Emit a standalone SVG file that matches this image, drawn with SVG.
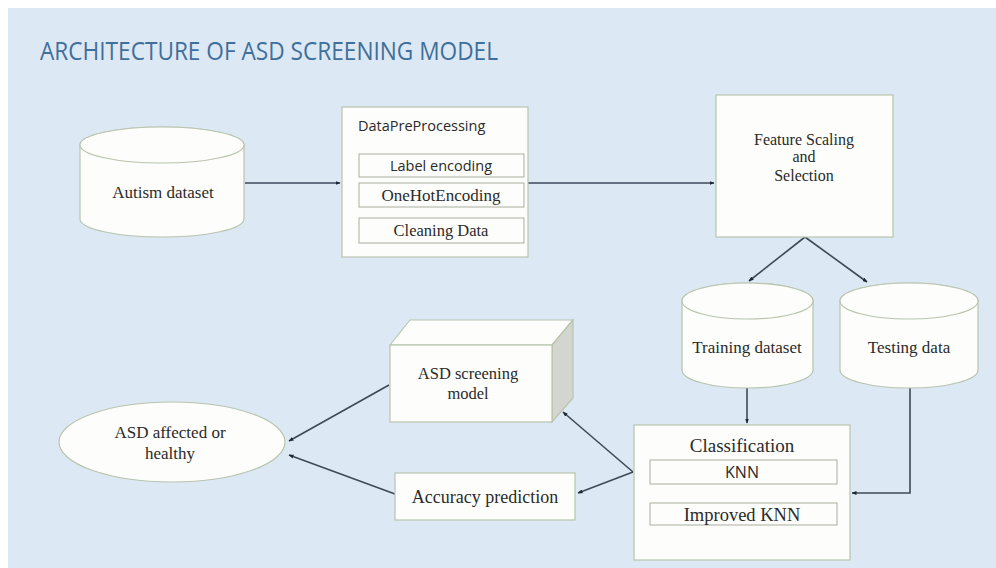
<svg xmlns="http://www.w3.org/2000/svg" width="996" height="568" viewBox="0 0 996 568">
  <defs>
    <style>
      .bg { fill: #dde8f5; }
      .box { fill: #fdfefb; stroke: #b8c4ae; stroke-width: 1.2; }
      .sub { fill: #fdfefb; stroke: #a9ad9f; stroke-width: 1; }
      .shade { fill: #d3d5cf; stroke: #b8c4ae; stroke-width: 1.2; }
      .serif { font-family: "Liberation Serif", "Times New Roman", serif; fill: #2a2a2a; }
      .sans { font-family: "Open Sans", "Liberation Sans", sans-serif; fill: #2a2a2a; }
      .title { font-family: "Open Sans", "Liberation Sans", sans-serif; fill: #3f6f9b; font-size: 25px; }
      .mid { text-anchor: middle; }
      .conn { fill: none; stroke: #3d4a58; stroke-width: 1.6; marker-end: url(#tip); }
    </style>
    <marker id="tip" viewBox="0 0 10 10" refX="9" refY="5" markerWidth="5" markerHeight="5" orient="auto" markerUnits="userSpaceOnUse">
      <path d="M0,1 L10,5 L0,9 Z" fill="#1f2630"/>
    </marker>
  </defs>

  <!-- page -->
  <rect x="0" y="0" width="996" height="568" fill="#ffffff"/>
  <rect class="bg" x="8" y="8" width="988" height="560"/>

  <text class="title" x="40" y="60" textLength="458" lengthAdjust="spacingAndGlyphs">ARCHITECTURE OF ASD SCREENING MODEL</text>

  <!-- connectors -->
  <g id="connectors">
    <path class="conn" d="M245,183 H340"/>
    <path class="conn" d="M528,183 H714"/>
    <path class="conn" d="M805,237 L749,281"/>
    <path class="conn" d="M805,237 L867,282"/>
    <path class="conn" d="M747,388 V423"/>
    <path class="conn" d="M910,388 V493 H852"/>
    <path class="conn" d="M633,472 L563,412"/>
    <path class="conn" d="M633,472 L578,493"/>
    <path class="conn" d="M389,385 L289,441"/>
    <path class="conn" d="M395,494 L289,455"/>
  </g>

  <!-- Autism dataset -->
  <g id="autism-dataset">
    <path class="box" d="M80,145 A82,18 0 0 1 244,145 V219 A82,18 0 0 1 80,219 Z"/>
    <ellipse class="box" cx="162" cy="145" rx="82" ry="18"/>
    <text class="serif mid" x="163" y="198" font-size="17">Autism dataset</text>
  </g>

  <!-- Data pre-processing -->
  <g id="data-preprocessing">
    <rect class="box" x="342" y="107" width="186" height="150"/>
    <text class="sans" x="358" y="131" font-size="14.5">DataPreProcessing</text>
    <rect class="sub" x="359" y="154" width="165" height="23"/>
    <text class="sans mid" x="441" y="171" font-size="14.5">Label encoding</text>
    <rect class="sub" x="359" y="183" width="165" height="24"/>
    <text class="serif mid" x="441" y="201" font-size="17">OneHotEncoding</text>
    <rect class="sub" x="359" y="218" width="165" height="25"/>
    <text class="serif mid" x="441" y="236" font-size="16.5">Cleaning Data</text>
  </g>

  <!-- Feature scaling and selection -->
  <g id="feature-scaling">
    <rect class="box" x="716" y="95" width="177" height="142"/>
    <text class="serif mid" x="804" y="145" font-size="16">Feature Scaling</text>
    <text class="serif mid" x="804" y="162" font-size="16">and</text>
    <text class="serif mid" x="804" y="181" font-size="16">Selection</text>
  </g>

  <!-- Training dataset -->
  <g id="training-dataset">
    <path class="box" d="M682,301 A65.5,18 0 0 1 813,301 V370 A65.5,18 0 0 1 682,370 Z"/>
    <ellipse class="box" cx="747.5" cy="301" rx="65.5" ry="18"/>
    <text class="serif mid" x="747" y="353" font-size="17">Training dataset</text>
  </g>

  <!-- Testing data -->
  <g id="testing-data">
    <path class="box" d="M840,301 A69,18 0 0 1 978,301 V370 A69,18 0 0 1 840,370 Z"/>
    <ellipse class="box" cx="909" cy="301" rx="69" ry="18"/>
    <text class="serif mid" x="909" y="353" font-size="17">Testing data</text>
  </g>

  <!-- Classification -->
  <g id="classification">
    <rect class="box" x="634" y="425" width="216" height="135"/>
    <text class="serif mid" x="742" y="452" font-size="19">Classification</text>
    <rect class="sub" x="650" y="460" width="187" height="24"/>
    <text class="sans mid" x="742" y="478" font-size="16">KNN</text>
    <rect class="sub" x="650" y="503" width="187" height="22"/>
    <text class="serif mid" x="742" y="521" font-size="18.5">Improved KNN</text>
  </g>

  <!-- ASD screening model (3D block) -->
  <g id="screening-model">
    <polygon class="box" points="390,345 410,320 573,320 552,345"/>
    <polygon class="shade" points="552,345 573,320 573,398 552,422"/>
    <rect class="box" x="390" y="345" width="162" height="77"/>
    <text class="serif mid" x="468" y="379" font-size="16.5">ASD screening</text>
    <text class="serif mid" x="468" y="399" font-size="16.5">model</text>
  </g>

  <!-- Accuracy prediction -->
  <g id="accuracy-prediction">
    <rect class="box" x="395" y="473" width="180" height="47"/>
    <text class="serif mid" x="485" y="503" font-size="18">Accuracy prediction</text>
  </g>

  <!-- Outcome -->
  <g id="outcome">
    <ellipse class="box" cx="172" cy="442" rx="113" ry="40"/>
    <text class="serif mid" x="170" y="438" font-size="17">ASD affected or</text>
    <text class="serif mid" x="170" y="459" font-size="17">healthy</text>
  </g>
</svg>
